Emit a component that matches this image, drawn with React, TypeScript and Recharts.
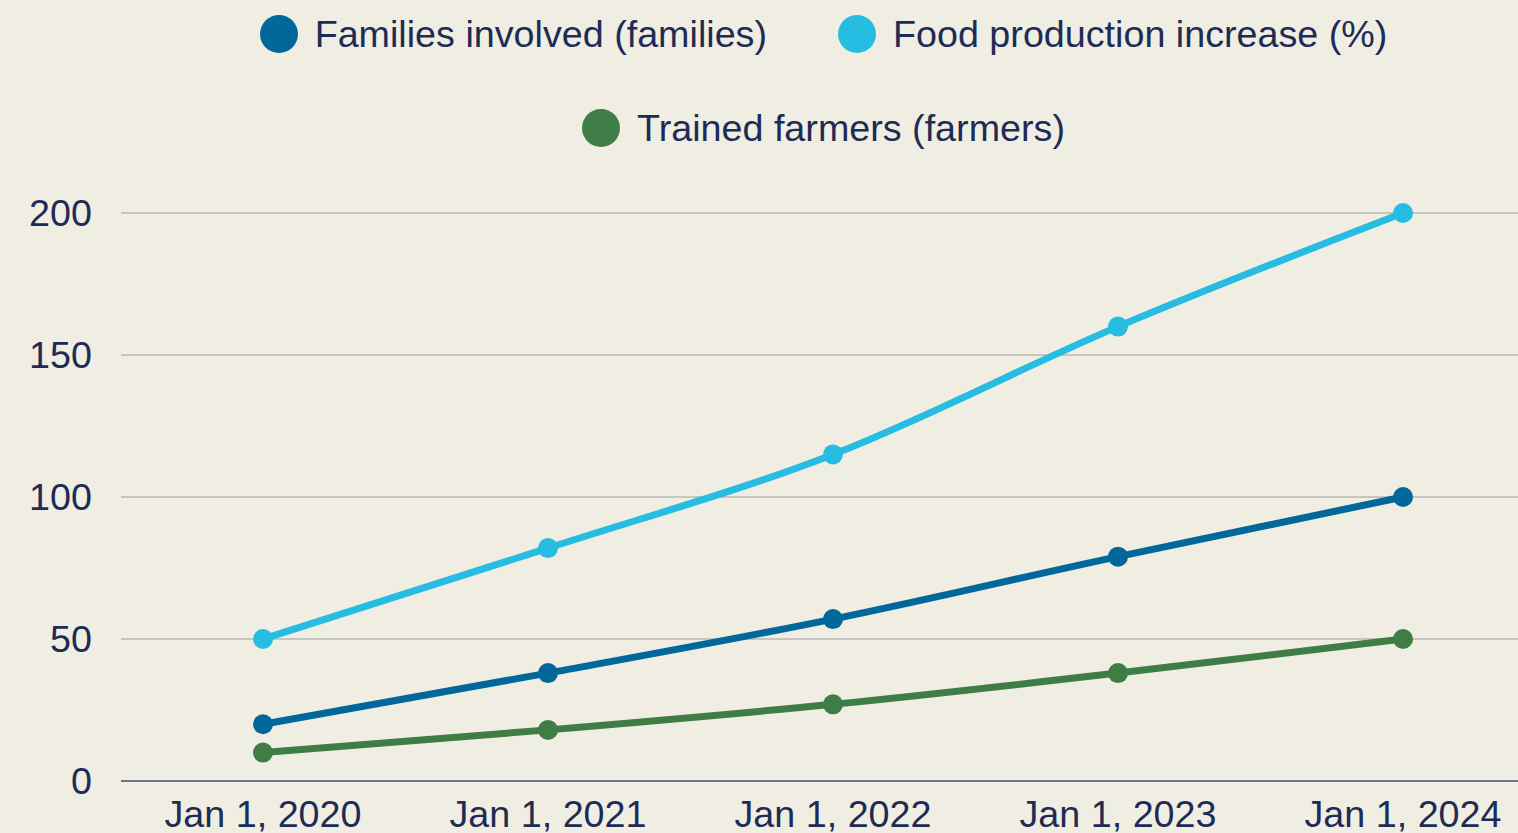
import { CartesianGrid, Legend, Line, LineChart, XAxis, YAxis } from 'recharts';

const years = ['Jan 1, 2020', 'Jan 1, 2021', 'Jan 1, 2022', 'Jan 1, 2023', 'Jan 1, 2024'];
const families = [20, 38, 57, 79, 100];
const foodIncrease = [50, 82, 115, 160, 200];
const trainedFarmers = [10, 18, 27, 38, 50];
const yTicks = [0, 50, 100, 150, 200];

const data = years.map((year, i) => ({
  year,
  families: families[i],
  food: foodIncrease[i],
  trained: trainedFarmers[i],
}));

const series = [
  { key: 'families', name: 'Families involved (families)', color: '#02679b' },
  { key: 'food', name: 'Food production increase (%)', color: '#27bde2' },
  { key: 'trained', name: 'Trained farmers (farmers)', color: '#3e7d45' },
];

const textColor = '#1e2b55';
const font = '"Liberation Sans", Arial, sans-serif';

const LegendContent = () => (
  <div
    style={{
      display: 'flex',
      flexWrap: 'wrap',
      justifyContent: 'center',
      columnGap: 71,
      rowGap: 52,
      fontFamily: font,
      fontSize: 37.7,
      lineHeight: '42px',
      color: textColor,
    }}
  >
    {series.map((s) => (
      <div key={s.key} style={{ display: 'flex', alignItems: 'center' }}>
        <span
          style={{
            display: 'inline-block',
            width: 38,
            height: 38,
            borderRadius: '50%',
            background: s.color,
            marginRight: 17,
          }}
        />
        <span>{s.name}</span>
      </div>
    ))}
  </div>
);

const App = () => {
  return (
    <div
      style={{
        position: 'absolute',
        left: 0,
        top: 0,
        width: 1518,
        height: 833,
        background: '#f0eee2',
        overflow: 'hidden',
      }}
    >
      <LineChart
        width={1518}
        height={833}
        data={data}
        margin={{ top: 213, right: 0, bottom: 0, left: 0 }}
      >
        <CartesianGrid vertical={false} stroke="#b9b9b5" strokeWidth={1.5} />
        <XAxis
          dataKey="year"
          height={52}
          padding={{ left: 142, right: 115 }}
          tickLine={false}
          tickSize={0}
          tickMargin={19}
          axisLine={{ stroke: '#6e7588', strokeWidth: 2 }}
          tick={{ fill: textColor, fontSize: 37.7, fontFamily: font }}
          interval={0}
        />
        <YAxis
          width={121}
          domain={[0, 200]}
          ticks={yTicks}
          axisLine={false}
          tickLine={false}
          tickSize={0}
          tickMargin={29}
          tick={{ fill: textColor, fontSize: 37.7, fontFamily: font }}
        />
        <Legend
          verticalAlign="middle"
          align="center"
          content={LegendContent}
          wrapperStyle={{ top: 13, left: 125, width: 1397 }}
        />
        {series.map((s) => (
          <Line
            key={s.key}
            type="monotone"
            dataKey={s.key}
            name={s.name}
            stroke={s.color}
            strokeWidth={7}
            dot={{ r: 10, fill: s.color, stroke: 'none' }}
            activeDot={false}
            isAnimationActive={false}
          />
        ))}
      </LineChart>
    </div>
  );
};

export default App;
